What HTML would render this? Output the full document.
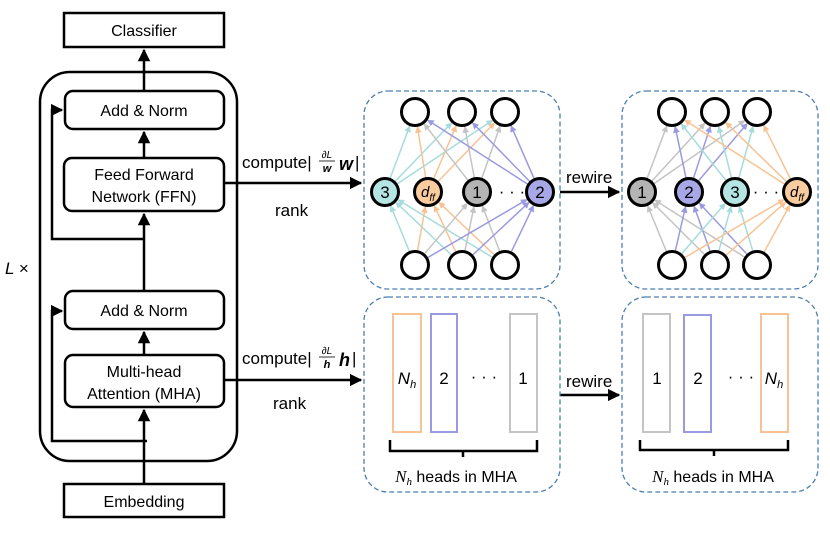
<!DOCTYPE html>
<html><head><meta charset="utf-8"><style>
body{margin:0;background:#fff;width:830px;height:544px;overflow:hidden}
svg text{font-family:"Liberation Sans",sans-serif;}
</style></head><body>
<svg id="s" width="830" height="544" viewBox="0 0 830 544" xmlns="http://www.w3.org/2000/svg">
<defs>
<marker id="ab" viewBox="0 0 10 10" refX="9" refY="5" markerWidth="5" markerHeight="5" orient="auto"><path d="M0,0L10,5L0,10z" fill="#000"/></marker>
<marker id="mc" viewBox="0 0 10 10" refX="9" refY="5" markerWidth="4.5" markerHeight="4.5" orient="auto"><path d="M0,0L10,5L0,10z" fill="#a6dcdc"/></marker>
<marker id="mo" viewBox="0 0 10 10" refX="9" refY="5" markerWidth="4.5" markerHeight="4.5" orient="auto"><path d="M0,0L10,5L0,10z" fill="#f7c394"/></marker>
<marker id="mg" viewBox="0 0 10 10" refX="9" refY="5" markerWidth="4.5" markerHeight="4.5" orient="auto"><path d="M0,0L10,5L0,10z" fill="#c4c4c4"/></marker>
<marker id="mp" viewBox="0 0 10 10" refX="9" refY="5" markerWidth="4.5" markerHeight="4.5" orient="auto"><path d="M0,0L10,5L0,10z" fill="#9a9ae0"/></marker>
</defs>
<g fill="none" stroke="#000" stroke-width="2.5">
<rect x="64" y="13" width="160" height="34"/>
<rect x="64" y="484" width="160" height="33"/>
<rect x="40" y="72" width="197" height="389" rx="30"/>
<rect x="65" y="91" width="159" height="38" rx="8"/>
<rect x="64" y="158" width="160" height="53" rx="8"/>
<rect x="65" y="291" width="159" height="38" rx="8"/>
<rect x="65" y="355" width="159" height="52" rx="8"/>
<line x1="144" y1="91" x2="144" y2="50" marker-end="url(#ab)"/>
<line x1="144" y1="158" x2="144" y2="132" marker-end="url(#ab)"/>
<line x1="144" y1="291" x2="144" y2="214" marker-end="url(#ab)"/>
<line x1="144" y1="355" x2="144" y2="332" marker-end="url(#ab)"/>
<line x1="144" y1="484" x2="144" y2="410" marker-end="url(#ab)"/>
<polyline points="144,239 52,239 52,110 62,110" marker-end="url(#ab)"/>
<polyline points="147,441 52,441 52,311 62,311" marker-end="url(#ab)"/>
<line x1="224" y1="183" x2="361" y2="183" marker-end="url(#ab)"/>
<line x1="224" y1="380" x2="361" y2="380" marker-end="url(#ab)"/>
<line x1="560" y1="192" x2="619" y2="192" marker-end="url(#ab)"/>
<line x1="560" y1="395" x2="619" y2="395" marker-end="url(#ab)"/>
</g>
<g font-size="16" text-anchor="middle">
<text x="144" y="36">Classifier</text>
<text x="144" y="507">Embedding</text>
<text x="144" y="116">Add &amp; Norm</text>
<text x="144" y="180">Feed Forward</text>
<text x="144" y="202">Network (FFN)</text>
<text x="144" y="316">Add &amp; Norm</text>
<text x="144" y="377">Multi-head</text>
<text x="144" y="399">Attention (MHA)</text>
</g>
<text x="5" y="274" font-size="17" font-family="Liberation Serif,serif" font-style="italic">L <tspan font-style="normal">×</tspan></text>
<g font-size="17">
<text x="242" y="168">compute|</text>
<text x="242" y="364">compute|</text>
<text x="275" y="216">rank</text>
<text x="273" y="409">rank</text>
<text x="566" y="183">rewire</text>
<text x="566" y="387">rewire</text>
</g>
<g font-family="Liberation Serif,serif">
<text x="327" y="158" font-size="10" font-style="italic" text-anchor="middle">∂L</text>
<line x1="319" y1="161" x2="335" y2="161" stroke="#000" stroke-width="0.8"/>
<text x="327" y="172" font-size="11" font-weight="bold" font-style="italic" text-anchor="middle">w</text>
<text x="339" y="170" font-size="18" font-weight="bold" font-style="italic">w</text><text x="355" y="168" font-size="17">|</text>
<text x="327" y="354" font-size="10" font-style="italic" text-anchor="middle">∂L</text>
<line x1="319" y1="357" x2="335" y2="357" stroke="#000" stroke-width="0.8"/>
<text x="327" y="368" font-size="11" font-weight="bold" font-style="italic" text-anchor="middle">h</text>
<text x="339" y="366" font-size="18" font-weight="bold" font-style="italic">h</text><text x="352" y="364" font-size="17">|</text>
</g>
<g fill="none" stroke="#4a7fb0" stroke-width="1.3" stroke-dasharray="5,3">
<rect x="364" y="91" width="196" height="198" rx="24"/>
<rect x="622" y="91" width="196" height="198" rx="24"/>
<rect x="364" y="297" width="196" height="195" rx="24"/>
<rect x="622" y="297" width="196" height="195" rx="24"/>
</g>
<g id="edges" stroke-width="1.5" fill="none"></g>
<g id="nodes" stroke="#000" stroke-width="3"></g>
<g stroke-width="2" fill="none">
<rect x="393" y="314" width="28" height="118" stroke="#f7c394"/>
<rect x="431" y="314" width="26" height="118" stroke="#9a9ae0"/>
<rect x="510" y="314" width="27" height="118" stroke="#c4c4c4"/>
<rect x="643" y="314" width="27" height="118" stroke="#c4c4c4"/>
<rect x="684" y="315" width="27" height="117" stroke="#9a9ae0"/>
<rect x="761" y="314" width="27" height="118" stroke="#f7c394"/>
<path d="M390,440 V451 H537 V440 M463,451 V457" stroke="#000" stroke-width="2.5"/>
<path d="M640,440 V450 H788 V440 M714,450 V456" stroke="#000" stroke-width="2.5"/>
</g>
<g font-size="17" text-anchor="middle">
<text x="444" y="384">2</text><text x="484" y="382">· · ·</text><text x="523" y="384">1</text>
<text x="657" y="384">1</text><text x="698" y="384">2</text><text x="741" y="382">· · ·</text>
<text x="407" y="384" font-family="Liberation Serif,serif" font-style="italic">N<tspan font-size="11" dy="4">h</tspan></text>
<text x="774" y="384" font-family="Liberation Serif,serif" font-style="italic">N<tspan font-size="11" dy="4">h</tspan></text>
<text x="456" y="482" font-size="16"><tspan font-family="Liberation Serif,serif" font-style="italic" font-size="17">N<tspan font-size="11" dy="3">h</tspan></tspan><tspan dy="-3"> heads in MHA</tspan></text>
<text x="713" y="482" font-size="16"><tspan font-family="Liberation Serif,serif" font-style="italic" font-size="17">N<tspan font-size="11" dy="3">h</tspan></tspan><tspan dy="-3"> heads in MHA</tspan></text>
</g>
</svg>
<script>
var NS="http://www.w3.org/2000/svg";
var E=document.getElementById("edges"),N=document.getElementById("nodes"),S=document.getElementById("s");
var col={c:["#a6dcdc","#b4e4e4","mc"],o:["#f7c394","#f9cca0","mo"],g:["#c4c4c4","#b4b4b4","mg"],p:["#9a9ae0","#a8a8e8","mp"]};
function el(t,a,p){var e=document.createElementNS(NS,t);for(var k in a)e.setAttribute(k,a[k]);p.appendChild(e);return e;}
function panel(top,mid,bot){
 mid.forEach(function(m){var c=col[m[1]];
  top.forEach(function(t){var dx=t-m[0],dy=112-192,L=Math.hypot(dx,dy);
   el("line",{x1:m[0]+dx/L*14,y1:192+dy/L*14,x2:t-dx/L*15,y2:112-dy/L*15,stroke:c[0],"marker-end":"url(#"+c[2]+")"},E);});
  bot.forEach(function(b){var dx=m[0]-b,dy=192-265,L=Math.hypot(dx,dy);
   el("line",{x1:b+dx/L*15,y1:265+dy/L*15,x2:m[0]-dx/L*15,y2:192-dy/L*15,stroke:c[0],"marker-end":"url(#"+c[2]+")"},E);});
 });
 top.forEach(function(t){el("circle",{cx:t,cy:112,r:13.5,fill:"#fff"},N);});
 bot.forEach(function(t){el("circle",{cx:t,cy:265,r:13.5,fill:"#fff"},N);});
 mid.forEach(function(m){el("circle",{cx:m[0],cy:192,r:13.5,fill:col[m[1]][1]},N);
  var t;
  if(m[2]=="d"){t=el("text",{x:m[0],y:197,"text-anchor":"middle","font-size":"15","font-family":"Liberation Serif,serif","font-style":"italic"},S);
   t.innerHTML='d<tspan font-size="10" dy="4">ff</tspan>';}
  else{t=el("text",{x:m[0],y:198,"text-anchor":"middle","font-size":"17"},S);t.textContent=m[2];}
 });
}
panel([415,462,505],[[385,"c","3"],[428,"o","d"],[477,"g","1"],[540,"p","2"]],[415,462,505]);
panel([672,715,757],[[642,"g","1"],[689,"p","2"],[735,"c","3"],[797,"o","d"]],[672,715,757]);
var d1=el("text",{x:512,y:197,"text-anchor":"middle","font-size":"17"},S);d1.textContent="· · ·";
var d2=el("text",{x:766,y:197,"text-anchor":"middle","font-size":"17"},S);d2.textContent="· · ·";
</script>
</body></html>
